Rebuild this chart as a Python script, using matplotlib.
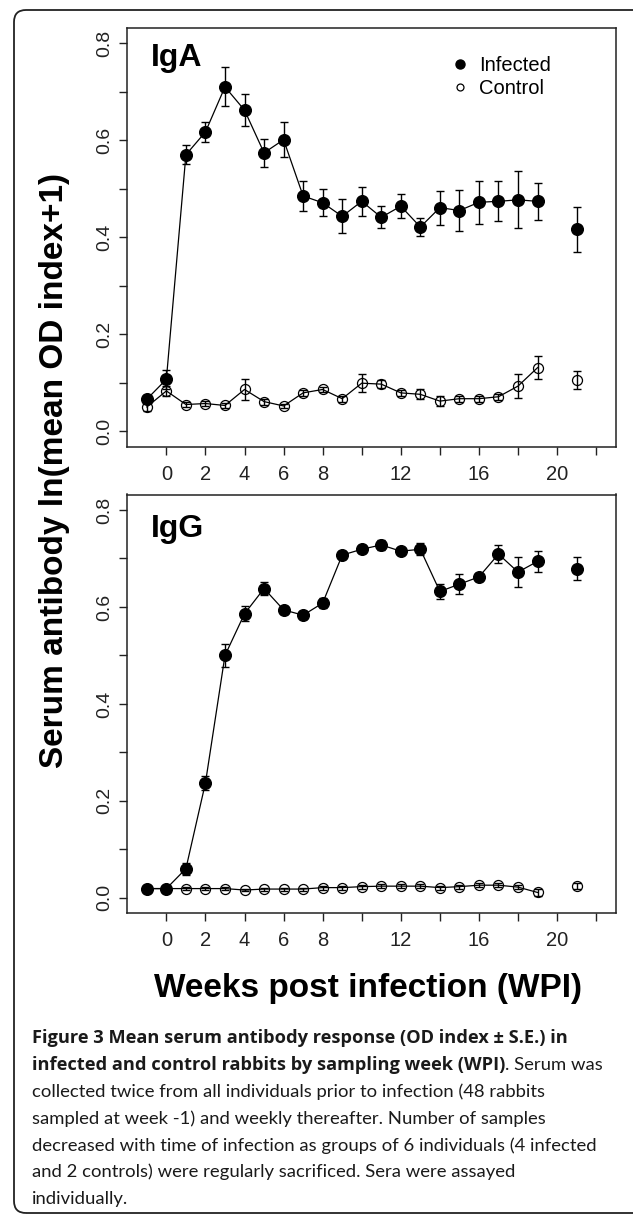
import numpy as np
import matplotlib
matplotlib.use('Agg')
import matplotlib.pyplot as plt
import matplotlib.patches as patches
from matplotlib.transforms import IdentityTransform
from matplotlib.lines import Line2D

#---DATA---
weeks = [-1, 0, 1, 2, 3, 4, 5, 6, 7, 8, 9, 10, 11, 12, 13, 14, 15, 16, 17, 18, 19, 21]

iga_inf = [0.066, 0.107, 0.570, 0.617, 0.710, 0.662, 0.574, 0.601, 0.485, 0.471, 0.443,
           0.474, 0.441, 0.464, 0.421, 0.461, 0.455, 0.472, 0.474, 0.477, 0.474, 0.416]
iga_inf_se = [0.008, 0.020, 0.020, 0.021, 0.040, 0.033, 0.029, 0.036, 0.030, 0.028, 0.035,
              0.030, 0.023, 0.025, 0.018, 0.035, 0.042, 0.044, 0.041, 0.059, 0.038, 0.046]
iga_con = [0.050, 0.083, 0.055, 0.057, 0.053, 0.086, 0.061, 0.052, 0.079, 0.086, 0.067,
           0.099, 0.097, 0.079, 0.076, 0.062, 0.067, 0.067, 0.071, 0.093, 0.131, 0.105]
iga_con_se = [0.008, 0.010, 0.005, 0.006, 0.005, 0.022, 0.006, 0.005, 0.006, 0.006, 0.006,
              0.018, 0.008, 0.006, 0.010, 0.010, 0.006, 0.006, 0.006, 0.025, 0.024, 0.019]

igg_inf = [0.019, 0.019, 0.060, 0.237, 0.500, 0.586, 0.638, 0.594, 0.583, 0.608, 0.707,
           0.719, 0.728, 0.715, 0.719, 0.632, 0.647, 0.662, 0.709, 0.672, 0.694, 0.679]
igg_inf_se = [0.004, 0.004, 0.012, 0.015, 0.023, 0.015, 0.013, 0.008, 0.008, 0.010, 0.008,
              0.008, 0.010, 0.006, 0.012, 0.016, 0.021, 0.008, 0.018, 0.031, 0.022, 0.024]
igg_con = [0.019, 0.019, 0.019, 0.019, 0.019, 0.016, 0.018, 0.018, 0.018, 0.021, 0.021,
           0.023, 0.024, 0.024, 0.024, 0.021, 0.023, 0.026, 0.026, 0.022, 0.011, 0.024]
igg_con_se = [0.003, 0.003, 0.003, 0.003, 0.003, 0.003, 0.003, 0.003, 0.003, 0.004, 0.004,
              0.004, 0.004, 0.004, 0.004, 0.004, 0.004, 0.004, 0.004, 0.004, 0.008, 0.006]

xticks = [0, 2, 4, 6, 8, 10, 12, 14, 16, 18, 20, 22]
xticklabels = ['0', '2', '4', '6', '8', '', '12', '', '16', '', '20', '']
yticks = [0.0, 0.2, 0.4, 0.6, 0.8]
yticklabels = ['0.0', '0.2', '0.4', '0.6', '0.8']
yminor = [0.1, 0.3, 0.5, 0.7]

caption_lines = [
    ('Figure 3 Mean serum antibody response (OD index \u00b1 S.E.) in', ''),
    ('infected and control rabbits by sampling week (WPI)', '. Serum was'),
    ('', 'collected twice from all individuals prior to infection (48 rabbits'),
    ('', 'sampled at week -1) and weekly thereafter. Number of samples'),
    ('', 'decreased with time of infection as groups of 6 individuals (4 infected'),
    ('', 'and 2 controls) were regularly sacrificed. Sera were assayed'),
    ('', 'individually.'),
]

#---SETUP---
plt.rcParams['font.family'] = ['Liberation Sans', 'DejaVu Sans']
W, H = 633, 1215
fig = plt.figure(figsize=(W / 100, H / 100), dpi=100)

def px_axes(left, top, right, bottom):
    return fig.add_axes([left / W, 1 - bottom / H, (right - left) / W, (bottom - top) / H])

ax1 = px_axes(127.3, 27.7, 615.7, 446.7)
ax2 = px_axes(127.3, 494.5, 615.7, 913.3)

n_conn = sum(w <= 19 for w in weeks)  # no sample at week 20, line breaks there

def draw_panel(ax, inf, inf_se, con, con_se, label, label_y):
    x = np.array(weeks)
    # control: open circles, line passes through
    ax.plot(x[:n_conn], con[:n_conn], color='black', lw=0.9, zorder=2)
    ax.errorbar(x, con, yerr=con_se, fmt='none', ecolor='black', elinewidth=1.0,
                capsize=3.2, capthick=1.0, zorder=3)
    ax.plot(x, con, ls='none', marker='o', ms=7.2, mfc='none', mec='black', mew=0.9, zorder=3)
    # infected: filled circles
    ax.plot(x[:n_conn], inf[:n_conn], color='black', lw=0.9, zorder=4)
    ax.errorbar(x, inf, yerr=inf_se, fmt='none', ecolor='black', elinewidth=1.0,
                capsize=3.2, capthick=1.0, zorder=5)
    ax.plot(x, inf, ls='none', marker='o', ms=8.4, mfc='black', mec='black', zorder=6)

    ax.set_xlim(-2.0, 23.0)
    ax.set_ylim(-0.032, 0.832)
    ax.set_xticks(xticks)
    ax.set_xticklabels(xticklabels)
    ax.set_yticks(yticks)
    ax.set_yticklabels(yticklabels, rotation=90, va='center')
    ax.set_yticks(yminor, minor=True)
    ax.tick_params(axis='both', which='both', direction='out', length=6, width=1.0, color='#222222')
    ax.tick_params(axis='x', labelsize=14.5, pad=7, labelcolor='#222222')
    ax.tick_params(axis='y', labelsize=14, pad=4, labelcolor='#222222')
    for s in ax.spines.values():
        s.set_linewidth(1.1)
        s.set_color('#222222')
    ax.text(0.048, label_y, label, transform=ax.transAxes, fontsize=23, fontweight='bold',
            ha='left', va='baseline')

draw_panel(ax1, iga_inf, iga_inf_se, iga_con, iga_con_se, 'IgA', 0.909)
draw_panel(ax2, igg_inf, igg_inf_se, igg_con, igg_con_se, 'IgG', 0.899)

#legend
handles = [Line2D([], [], ls='none', marker='o', ms=6.5, mfc='black', mec='black'),
           Line2D([], [], ls='none', marker='o', ms=5.0, mfc='none', mec='black', mew=0.9)]
ax1.legend(handles, ['Infected', 'Control'], loc='upper left', bbox_to_anchor=(0.665, 0.932),
           frameon=False, fontsize=14.5, borderpad=0, handlelength=0.8, handletextpad=0.55,
           labelspacing=0.18, borderaxespad=0)

#axis labels
fig.text(55 / W, 1 - 470 / H, 'Serum antibody ln(mean OD index+1)', rotation=90,
         ha='center', va='center', fontsize=24, fontweight='bold')
fig.text(368 / W, 1 - 997 / H, 'Weeks post infection (WPI)', ha='center', va='baseline',
         fontsize=24, fontweight='bold')

#---CAPTION---
cap_font = ['Lato', 'DejaVu Sans']
bold_font = ['Open Sans', 'DejaVu Sans']
cap_color = '#1a1a1a'
cap_size = 13.3
cap_left = 31.7
line2_end = 598   # x where "Serum was" ends in the figure
base = 1043
step = 26.9
bold_texts = []
for i, (bold_part, reg_part) in enumerate(caption_lines):
    y = 1 - (base + i * step) / H
    if bold_part:
        t = fig.text(cap_left / W, y, bold_part, fontsize=13, fontweight='bold', family=bold_font,
                     ha='left', va='baseline', color=cap_color)
        r = None
        if reg_part:
            r = fig.text(0, y, reg_part, fontsize=cap_size, family=cap_font, color=cap_color,
                         ha='left', va='baseline')
        bold_texts.append((t, r))
    else:
        fig.text(cap_left / W, y, reg_part, fontsize=cap_size, family=cap_font, color=cap_color,
                 ha='left', va='baseline')

#size the bold runs so the second caption line ends where it does in the figure
fig.canvas.draw()
t2, r2 = bold_texts[1]
room = line2_end - cap_left - r2.get_window_extent().width
new_size = 13 * room / t2.get_window_extent().width
for t, _ in bold_texts:
    t.set_fontsize(new_size)
fig.canvas.draw()
for t, r in bold_texts:
    if r is not None:
        r.set_x(t.get_window_extent().x1 / W)

#---FRAME---
frame = patches.FancyBboxPatch((14, 2), 650, 1203, boxstyle='round,pad=0,rounding_size=12',
                               transform=IdentityTransform(), fill=False, lw=1.3,
                               edgecolor='#222222')
fig.patches.append(frame)

fig.savefig('out.png', dpi=100)
